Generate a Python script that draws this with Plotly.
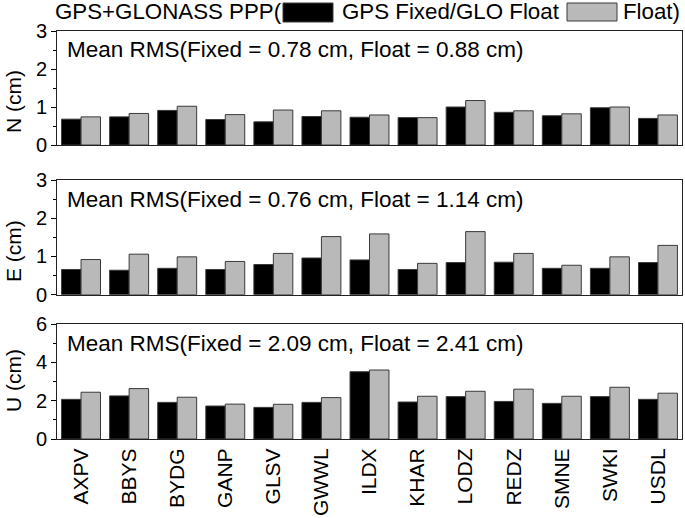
import plotly.graph_objs as go
import plotly.subplots as sp

stations = ["AXPV", "BBYS", "BYDG", "GANP", "GLSV", "GWWL", "ILDX",
            "KHAR", "LODZ", "REDZ", "SMNE", "SWKI", "USDL"]

n_fixed = [0.68, 0.74, 0.91, 0.67, 0.61, 0.75, 0.73, 0.72, 1.00, 0.86, 0.77, 0.98, 0.70]
n_float = [0.74, 0.83, 1.02, 0.80, 0.92, 0.90, 0.79, 0.72, 1.17, 0.90, 0.82, 1.00, 0.79]

e_fixed = [0.66, 0.64, 0.69, 0.66, 0.79, 0.96, 0.91, 0.66, 0.84, 0.85, 0.69, 0.69, 0.84]
e_float = [0.92, 1.06, 0.99, 0.87, 1.08, 1.52, 1.59, 0.82, 1.65, 1.08, 0.77, 0.99, 1.29]

u_fixed = [2.07, 2.25, 1.91, 1.72, 1.65, 1.91, 3.51, 1.93, 2.21, 1.96, 1.86, 2.21, 2.07]
u_float = [2.44, 2.63, 2.18, 1.82, 1.81, 2.16, 3.60, 2.23, 2.49, 2.60, 2.23, 2.70, 2.39]

panels = [
    ("N (cm)", n_fixed, n_float, 3, 1, 0.5, "Mean RMS(Fixed = 0.78 cm, Float = 0.88 cm)"),
    ("E (cm)", e_fixed, e_float, 3, 1, 0.5, "Mean RMS(Fixed = 0.76 cm, Float = 1.14 cm)"),
    ("U (cm)", u_fixed, u_float, 6, 2, 1, "Mean RMS(Fixed = 2.09 cm, Float = 2.41 cm)"),
]

fixed_color = "#000000"
float_color = "#b9b9b9"
edge_color = "#3a3a3a"
font_family = "Liberation Sans, Arial, sans-serif"

W, H = 685, 518
ml, mr, mt, mb = 57, 3, 31, 79
pw, ph = W - ml - mr, H - mt - mb


def px_x(x):
    # window pixels -> paper fraction
    return (x - ml) / pw


def px_y(y):
    return (H - mb - y) / ph


# panel pixel extents (top, bottom) and where the y title sits
panel_px = [(31, 145), (180, 294.7), (324, 439)]
ytitle_px = [102, 251, 381]

fig = sp.make_subplots(rows=3, cols=1, shared_xaxes=False)

for i, (title, fx, fl, ymax, dt, mdt, note) in enumerate(panels):
    row = i + 1
    fig.add_trace(
        go.Bar(x=stations, y=fx, name="GPS Fixed/GLO Float",
               marker=dict(color=fixed_color, line=dict(color=edge_color, width=1)),
               showlegend=False),
        row=row, col=1,
    )
    fig.add_trace(
        go.Bar(x=stations, y=fl, name="Float",
               marker=dict(color=float_color, line=dict(color=edge_color, width=1)),
               showlegend=False),
        row=row, col=1,
    )
    top, bot = panel_px[i]
    fig.update_yaxes(
        row=row, col=1, domain=[px_y(bot), px_y(top)],
        range=[0, ymax], dtick=dt, tick0=0,
        ticks="outside", ticklen=5, tickwidth=1, tickcolor="black",
        minor=dict(dtick=mdt, ticks="outside", ticklen=3, tickcolor="black"),
        showline=True, linecolor="#222222", linewidth=1, mirror=True,
        showgrid=False, zeroline=False,
        tickfont=dict(size=20, color="black"),
    )
    fig.update_xaxes(
        row=row, col=1, domain=[0, 1],
        showline=True, linecolor="#222222", linewidth=1, mirror=True,
        showgrid=False, ticks="", showticklabels=(row == 3),
        tickangle=-90, tickfont=dict(size=21, color="black"),
    )
    # y title (placed by hand, not centred on the panel in the original)
    fig.add_annotation(
        text=title, xref="paper", yref="paper", textangle=-90,
        x=px_x(13), y=px_y(ytitle_px[i]), xanchor="center", yanchor="middle",
        showarrow=False, font=dict(size=21, color="black"),
    )
    fig.add_annotation(
        text=note, xref="paper", yref="paper",
        x=px_x(65), y=px_y(top + 19), xanchor="left", yanchor="middle",
        showarrow=False, font=dict(size=22.5, color="black"),
    )

# header line with legend swatches
head_font = dict(size=22.3, color="black")
fig.add_annotation(text="GPS+GLONASS PPP(", xref="paper", yref="paper",
                   x=px_x(53), y=px_y(12), xanchor="left", yanchor="middle",
                   showarrow=False, font=head_font)
fig.add_shape(type="rect", xref="paper", yref="paper",
              x0=px_x(283), x1=px_x(333), y0=px_y(22), y1=px_y(3),
              fillcolor=fixed_color, line=dict(color=edge_color, width=1))
fig.add_annotation(text="GPS Fixed/GLO Float", xref="paper", yref="paper",
                   x=px_x(340), y=px_y(12), xanchor="left", yanchor="middle",
                   showarrow=False, font=head_font)
fig.add_shape(type="rect", xref="paper", yref="paper",
              x0=px_x(567), x1=px_x(617), y0=px_y(21), y1=px_y(3),
              fillcolor=float_color, line=dict(color=edge_color, width=1))
fig.add_annotation(text="Float)", xref="paper", yref="paper",
                   x=px_x(621), y=px_y(12), xanchor="left", yanchor="middle",
                   showarrow=False, font=head_font)

fig.update_layout(
    width=W, height=H,
    margin=dict(l=ml, r=mr, t=mt, b=mb),
    barmode="group", bargap=0.19, bargroupgap=0,
    plot_bgcolor="white", paper_bgcolor="white",
    font=dict(family=font_family, color="black"),
)

# the page body has a default 8px margin; drop it so the figure fills the window
fig.write_html("out.html", config={"displayModeBar": False},
               post_script="document.body.style.margin = '0';")
